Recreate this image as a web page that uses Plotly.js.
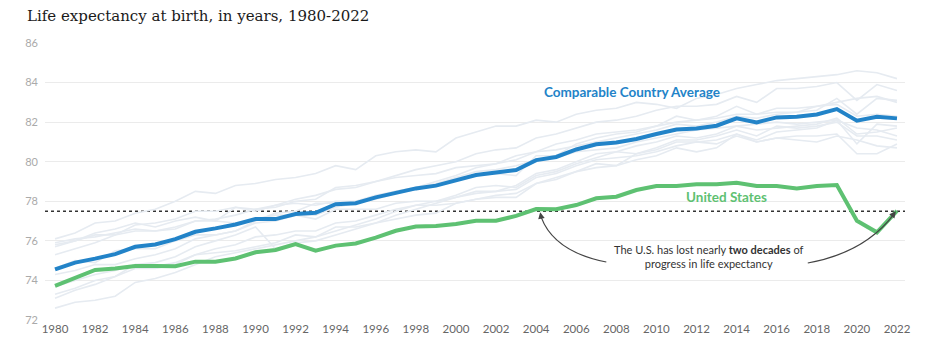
<!DOCTYPE html>
<html>
<head>
<meta charset="utf-8">
<script src="https://cdn.plot.ly/plotly-3.0.1.min.js"></script>
<style>html,body{margin:0;padding:0;background:#fff;}#chart{width:932px;height:350px;}</style>
</head>
<body>
<div id="chart"></div>
<script>
const years = [1980,1981,1982,1983,1984,1985,1986,1987,1988,1989,1990,1991,1992,1993,1994,1995,1996,1997,1998,1999,2000,2001,2002,2003,2004,2005,2006,2007,2008,2009,2010,2011,2012,2013,2014,2015,2016,2017,2018,2019,2020,2021,2022];

const comparableAvg = [74.56,74.9,75.1,75.33,75.7,75.82,76.09,76.46,76.63,76.83,77.1,77.1,77.36,77.42,77.85,77.9,78.2,78.45,78.65,78.79,79.07,79.33,79.46,79.58,80.08,80.24,80.62,80.88,80.97,81.15,81.4,81.63,81.68,81.82,82.19,81.99,82.24,82.27,82.39,82.66,82.07,82.27,82.19];

const unitedStates = [73.72,74.1,74.53,74.6,74.73,74.73,74.72,74.95,74.95,75.11,75.42,75.54,75.84,75.5,75.76,75.87,76.16,76.51,76.72,76.75,76.85,77.02,77.02,77.26,77.61,77.6,77.81,78.15,78.23,78.57,78.77,78.77,78.86,78.86,78.94,78.77,78.77,78.65,78.77,78.82,77.02,76.43,77.52];

const japan = [76.1,76.4,76.9,77.0,77.4,77.6,78.0,78.5,78.4,78.8,78.9,79.1,79.2,79.4,79.8,79.6,80.3,80.5,80.6,80.5,81.2,81.5,81.8,81.8,82.1,82.0,82.4,82.6,82.7,83.0,82.9,82.7,83.2,83.4,83.7,83.9,84.1,84.2,84.3,84.4,84.6,84.5,84.2];
const switzerland = [75.7,76.0,76.3,76.3,76.8,76.9,77.1,77.5,77.5,77.7,77.5,77.8,78.1,78.3,78.6,78.7,79.0,79.3,79.6,79.8,80.0,80.4,80.6,80.7,81.2,81.4,81.7,82.0,82.1,82.3,82.6,82.8,82.8,82.9,83.3,83.0,83.7,83.7,83.8,84.0,83.1,83.9,83.6];
const australia = [74.6,75.0,74.9,75.5,75.6,75.6,76.0,76.3,76.3,76.5,77.0,77.4,77.5,77.9,77.9,78.0,78.2,78.5,78.7,79.0,79.3,79.7,79.9,80.3,80.5,80.9,81.1,81.4,81.5,81.6,81.8,82.0,82.1,82.2,82.4,82.4,82.5,82.5,82.8,83.0,83.2,83.3,83.0];
const sweden = [75.8,76.0,76.4,76.6,76.9,76.7,77.0,77.2,77.0,77.7,77.6,77.7,78.0,78.1,78.7,78.8,79.0,79.2,79.3,79.4,79.7,79.8,79.9,80.1,80.5,80.6,80.8,81.0,81.2,81.4,81.6,81.9,81.8,82.0,82.3,82.2,82.4,82.5,82.6,83.2,82.4,83.2,83.1];
const france = [74.3,74.5,74.8,74.8,75.1,75.3,75.6,76.1,76.3,76.5,76.9,77.0,77.3,77.3,77.7,77.9,78.1,78.4,78.6,78.8,79.2,79.3,79.4,79.3,80.3,80.3,80.9,81.2,81.4,81.5,81.8,82.3,82.1,82.3,82.8,82.4,82.7,82.7,82.8,82.9,82.3,82.4,82.3];
const netherlands = [75.9,76.1,76.2,76.4,76.6,76.5,76.6,77.0,77.0,76.9,77.1,77.3,77.3,77.1,77.6,77.6,77.6,77.9,78.0,78.0,78.2,78.4,78.5,78.8,79.4,79.6,80.0,80.4,80.5,80.8,81.0,81.3,81.2,81.4,81.8,81.6,81.7,81.8,81.9,82.2,81.4,81.5,81.7];
const canada = [75.3,75.6,75.9,76.3,76.5,76.5,76.7,77.0,77.1,77.3,77.6,77.8,77.9,77.8,78.0,78.0,78.3,78.5,78.7,78.9,79.2,79.5,79.6,79.8,80.1,80.2,80.5,80.6,80.7,81.0,81.2,81.4,81.6,81.7,81.8,81.9,82.0,81.9,82.0,82.1,81.7,81.6,81.3];
const unitedKingdom = [73.7,74.0,74.3,74.5,74.8,74.7,74.9,75.3,75.4,75.5,75.7,75.9,76.3,76.2,76.7,76.7,76.9,77.1,77.3,77.4,77.9,78.1,78.3,78.4,78.9,79.2,79.5,79.7,79.8,80.4,80.6,81.0,81.0,81.1,81.4,81.0,81.2,81.3,81.3,81.4,80.4,80.4,80.9];
const belgium = [73.3,73.6,74.0,74.2,74.6,74.6,74.8,75.3,75.6,75.8,76.2,76.3,76.5,76.5,76.9,77.0,77.3,77.6,77.8,77.8,77.9,78.1,78.2,78.2,78.9,79.1,79.5,79.9,79.8,80.1,80.3,80.7,80.5,80.7,81.4,81.1,81.5,81.6,81.7,82.1,80.9,81.9,81.8];
const austria = [72.6,72.9,73.0,73.2,73.9,74.1,74.4,74.8,75.2,75.4,75.6,75.8,76.0,76.2,76.5,76.8,77.1,77.5,77.8,78.0,78.3,78.7,78.8,78.7,79.3,79.5,79.9,80.2,80.5,80.4,80.7,81.1,81.1,81.3,81.6,81.3,81.8,81.7,81.8,82.0,81.3,81.3,81.1];
const germany = [73.1,73.5,73.8,74.2,74.8,74.9,75.2,75.7,76.0,76.3,76.7,75.6,75.9,76.0,76.3,76.6,76.9,77.3,77.6,77.9,78.2,78.5,78.5,78.6,79.2,79.4,79.8,80.1,80.2,80.3,80.5,80.8,81.0,80.9,81.3,81.0,81.2,81.1,81.0,81.3,81.1,80.8,80.7];

const countryNames = ["Japan","Switzerland","Australia","Sweden","France","Netherlands","Canada","United Kingdom","Belgium","Austria","Germany"];
const countrySeries = [japan,switzerland,australia,sweden,france,netherlands,canada,unitedKingdom,belgium,austria,germany];

const yTicks = [72,74,76,78,80,82,84,86];
const xTicks = [1980,1982,1984,1986,1988,1990,1992,1994,1996,1998,2000,2002,2004,2006,2008,2010,2012,2014,2016,2018,2020,2022];

const titleText = "Life expectancy at birth, in years, 1980-2022";
const avgLabel = "Comparable Country Average";
const usLabel = "United States";
const noteText = "The U.S. has lost nearly <b>two decades</b> of<br>progress in life expectancy";
const referenceLevel = 77.5;

const BLUE = "#2283c8";
const GREEN = "#5ec172";
const GRAY = "#e6ebf1";
const SANS = "Lato, 'Open Sans', sans-serif";

const traces = [];
countrySeries.forEach((s, i) => {
  traces.push({x: years, y: s, name: countryNames[i], type: "scatter", mode: "lines",
    line: {color: GRAY, width: 1.6}, hoverinfo: "skip"});
});
traces.push({x: years, y: unitedStates, name: usLabel, type: "scatter", mode: "lines",
  line: {color: GREEN, width: 4}});
traces.push({x: years, y: comparableAvg, name: avgLabel, type: "scatter", mode: "lines",
  line: {color: BLUE, width: 4}});

const layout = {
  width: 932, height: 350,
  margin: {l: 45, r: 27, t: 43, b: 30},
  paper_bgcolor: "#fff", plot_bgcolor: "#fff",
  showlegend: false,
  hovermode: false,
  title: {text: titleText, x: 27/932, xanchor: "left", xref: "container", y: 1 - 16/350, yanchor: "middle",
    font: {family: "'DejaVu Serif', serif", size: 15, color: "#1a1a1a"}},
  xaxis: {range: [1979.5, 2022.4], tickvals: xTicks, ticktext: xTicks.map(String),
    showgrid: false, zeroline: false, showline: false, ticks: "", ticklen: 0,
    tickfont: {family: SANS, size: 11.5, color: "#666"}},
  yaxis: {range: [72, 86], tickvals: yTicks, ticktext: yTicks.map(String),
    showgrid: true, gridcolor: "#ebebeb", gridwidth: 1, zeroline: false, showline: false,
    ticks: "", ticklabelstandoff: 6,
    tickfont: {family: SANS, size: 11, color: "#aaa"}},
  shapes: [
    {type: "line", xref: "paper", x0: 0, x1: 1, yref: "y", y0: referenceLevel, y1: referenceLevel,
      line: {color: "#333", width: 1.5, dash: "dot"}, layer: "below"},
    {type: "path", xref: "x", yref: "y", path: "M 2007.5,74.93 Q 2004.9,75.45 2004.25,77.2",
      line: {color: "#444", width: 1.2}},
    {type: "path", xref: "x", yref: "y", path: "M 2017.55,74.88 Q 2020.4,75.4 2021.85,77.35",
      line: {color: "#444", width: 1.2}}
  ],
  annotations: [
    {text: "<b>" + avgLabel + "</b>", x: 2008.8, y: 83.5, xref: "x", yref: "y", showarrow: false,
      font: {family: SANS, size: 13.5, color: BLUE}},
    {text: "<b>" + usLabel + "</b>", x: 2013.5, y: 78.2, xref: "x", yref: "y", showarrow: false,
      font: {family: SANS, size: 13.5, color: GREEN}},
    {text: noteText, x: 2012.6, y: 75.2, xref: "x", yref: "y", showarrow: false, align: "center",
      font: {family: SANS, size: 11, color: "#333"}},
    {text: "", x: 2004.2, y: 77.45, xref: "x", yref: "y", axref: "x", ayref: "y", ax: 2004.28, ay: 77.05,
      showarrow: true, arrowhead: 2, arrowsize: 1.1, arrowwidth: 1.2, arrowcolor: "#444"},
    {text: "", x: 2021.95, y: 77.5, xref: "x", yref: "y", axref: "x", ayref: "y", ax: 2021.75, ay: 77.25,
      showarrow: true, arrowhead: 2, arrowsize: 1.1, arrowwidth: 1.2, arrowcolor: "#444"}
  ]
};

Plotly.newPlot("chart", traces, layout, {displayModeBar: false, staticPlot: true});
</script>
</body>
</html>
